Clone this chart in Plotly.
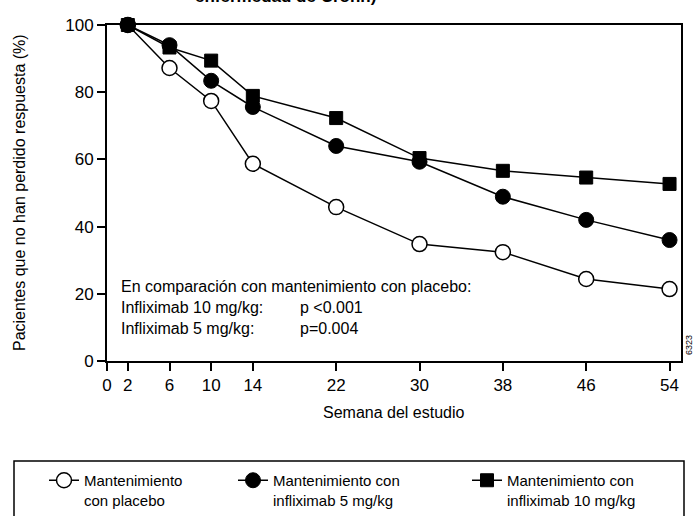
import plotly.graph_objects as go

weeks = [2, 6, 10, 14, 22, 30, 38, 46, 54]
placebo = [100, 87.2, 77.4, 58.7, 45.8, 34.8, 32.4, 24.4, 21.4]
inf5 = [100, 94.0, 83.4, 75.6, 64.0, 59.3, 48.9, 42.0, 36.0]
inf10 = [100, 93.3, 89.4, 78.9, 72.3, 60.4, 56.6, 54.6, 52.7]
x_ticks = [0, 2, 6, 10, 14, 22, 30, 38, 46, 54]
y_ticks = [0, 20, 40, 60, 80, 100]

names = ["Mantenimiento<br>con placebo",
         "Mantenimiento con<br>infliximab 5 mg/kg",
         "Mantenimiento con<br>infliximab 10 mg/kg"]

FONT = "Liberation Sans, Arial, sans-serif"
W, H = 697, 516
PL, PR, PT, PB = 107, 681, 25, 361   # plot area in pixels


def px(xp):
    return xp / W


def py(yp):
    return 1 - yp / H


fig = go.Figure()
fig.add_trace(go.Scatter(
    x=weeks, y=placebo, mode="lines+markers", name=names[0], legend="legend",
    showlegend=True,
    line=dict(color="black", width=1.5),
    marker=dict(symbol="circle", size=15, color="white", line=dict(color="black", width=1.5)),
    cliponaxis=False))
fig.add_trace(go.Scatter(
    x=weeks, y=inf5, mode="lines+markers", name=names[1], legend="legend2",
    showlegend=True,
    line=dict(color="black", width=1.5),
    marker=dict(symbol="circle", size=15, color="black", line=dict(color="black", width=1)),
    cliponaxis=False))
fig.add_trace(go.Scatter(
    x=weeks, y=inf10, mode="lines+markers", name=names[2], legend="legend3",
    showlegend=True,
    line=dict(color="black", width=1.5),
    marker=dict(symbol="square", size=13, color="black", line=dict(color="black", width=1)),
    cliponaxis=False))

leg_common = dict(orientation="v", yanchor="top", xanchor="left", valign="top",
                  bgcolor="rgba(0,0,0,0)", borderwidth=0,
                  font=dict(family=FONT, size=15, color="black"))
fig.update_layout(
    showlegend=True,
    legend=dict(x=px(44), y=py(464), **leg_common),
    legend2=dict(x=px(233), y=py(464), **leg_common),
    legend3=dict(x=px(467), y=py(464), **leg_common),
)

fig.update_xaxes(domain=[px(PL), px(PR)], range=[0, 55.1], tickvals=x_ticks,
                 ticktext=[str(v) for v in x_ticks],
                 ticks="outside", ticklen=8, tickwidth=2, tickcolor="black",
                 showline=True, linewidth=2, linecolor="black", mirror=True,
                 showgrid=False, zeroline=False, automargin=False,
                 tickfont=dict(family=FONT, size=17, color="black"))
fig.update_yaxes(domain=[py(PB), py(PT)], range=[0, 100], tickvals=y_ticks,
                 ticks="outside", ticklen=8, tickwidth=2, tickcolor="black",
                 showline=True, linewidth=2, linecolor="black", mirror=True,
                 showgrid=False, zeroline=False, automargin=False,
                 tickfont=dict(family=FONT, size=17, color="black"))

ann_font = dict(family=FONT, size=16, color="black")
annotations = [
    dict(x=px(119), y=py(286), text="En comparación con mantenimiento con placebo:"),
    dict(x=px(119), y=py(307), text="Infliximab 10 mg/kg:"),
    dict(x=px(119), y=py(328), text="Infliximab 5 mg/kg:"),
    dict(x=px(298), y=py(307), text="p <0.001"),
    dict(x=px(298), y=py(328), text="p=0.004"),
]
for a in annotations:
    fig.add_annotation(xref="paper", yref="paper", xanchor="left", yanchor="middle",
                       showarrow=False, font=ann_font, **a)

# axis titles
fig.add_annotation(xref="paper", yref="paper", x=px(394), y=py(412),
                   text="Semana del estudio", showarrow=False,
                   xanchor="center", yanchor="middle", font=ann_font)
fig.add_annotation(xref="paper", yref="paper", x=px(19), y=py(193),
                   text="Pacientes que no han perdido respuesta (%)", showarrow=False,
                   textangle=-90, xanchor="center", yanchor="middle", font=ann_font)

fig.add_annotation(xref="paper", yref="paper", x=px(689), y=py(345), text="6323",
                   textangle=-90, showarrow=False, xanchor="center", yanchor="middle",
                   font=dict(family=FONT, size=9, color="black"))
fig.add_annotation(xref="paper", yref="paper", x=px(193), y=py(8),
                   text="<b>enfermedad de Crohn)</b>",
                   showarrow=False, xanchor="left", yanchor="bottom",
                   font=dict(family=FONT, size=17, color="black"))

fig.add_shape(type="rect", xref="paper", yref="paper",
              x0=px(14), x1=px(684), y0=py(461), y1=py(540),
              line=dict(color="black", width=1.5), fillcolor="rgba(0,0,0,0)")

fig.update_layout(width=W, height=H, margin=dict(l=0, r=0, t=0, b=0, autoexpand=False),
                  plot_bgcolor="white", paper_bgcolor="white",
                  font=dict(family=FONT, color="black"))

fig.write_html("out.html", config={"displayModeBar": False},
               post_script="document.body.style.margin='0';document.body.style.overflow='hidden';")
